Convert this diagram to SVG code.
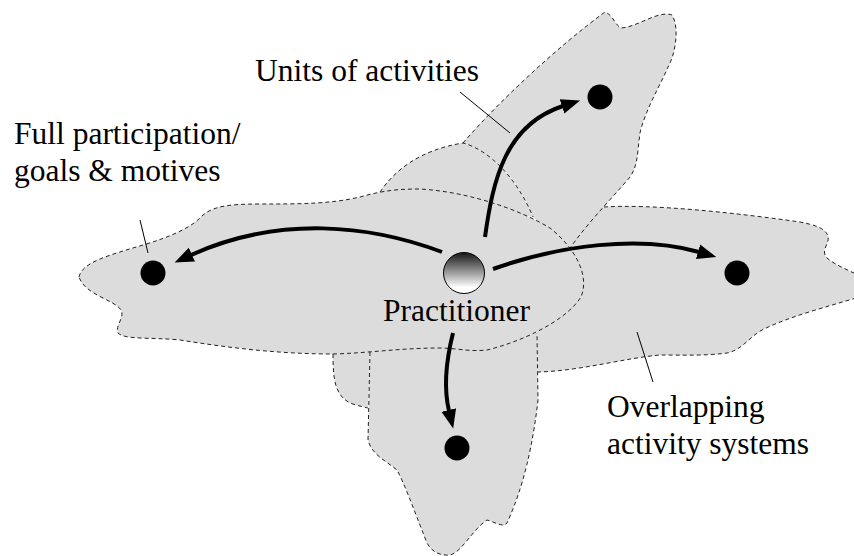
<svg xmlns="http://www.w3.org/2000/svg" width="854" height="556" viewBox="0 0 854 556">
  <defs>
    <linearGradient id="ballShade" x1="0" y1="0" x2="0" y2="1">
      <stop offset="0" stop-color="#151515"/>
      <stop offset="0.85" stop-color="#ffffff"/>
      <stop offset="1" stop-color="#ffffff"/>
    </linearGradient>
    <marker id="head" markerUnits="userSpaceOnUse" markerWidth="24" markerHeight="20" refX="1" refY="0" viewBox="0 -10 24 20" orient="auto">
      <path d="M0,-7.5 L19,0 L0,7.5 Z" fill="#000"/>
    </marker>
    <style>
      .area { fill: #dcdcdc; stroke: none; }
      .edge { fill: none; stroke: #222; stroke-width: 1; stroke-dasharray: 4 3; }
      .leader { fill: none; stroke: #000; stroke-width: 1; }
      .flow { fill: none; stroke: #000; stroke-width: 4; marker-end: url(#head); }
      .dot { fill: #000; }
      .label { font-family: "Liberation Serif", "Times New Roman", serif; font-size: 31.5px; fill: #000; }
    </style>
  </defs>

  <!-- activity system areas (fills) -->
  <g id="areas">
    <path class="area" d="M463,143 C500,100 560,45 605,12 C613,15 615,25 621,28 C638,27 658,10 672,15 C680,28 675,55 668,67 C663,80 645,110 640,133 C637,155 638,165 630,177 C615,195 590,220 570,248 L533,217 C520,180 490,150 463,143 Z"/>
    <path class="area" d="M380,192 C395,170 420,150 463,143 C490,150 518,180 533,217 L450,200 Z"/>
    <path class="area" d="M604,207 C650,204 730,212 800,222 C815,225 825,228 828,236 C830,244 820,250 827,258 C835,265 848,270 856,274 L856,298 C830,306 790,316 762,330 C748,338 742,350 727,353 C705,356 680,355 660,355 C625,358 580,371 538,372 L537,333 L540,280 L560,240 Z"/>
    <path class="area" d="M370,352 L368,440 C372,455 385,460 397,470 C405,485 412,505 427,543 C432,552 440,556 450,555 C462,552 472,530 487,520 C495,522 503,528 507,523 C515,505 530,470 538,400 L537,333 L450,340 Z"/>
    <path class="area" d="M333,354 C333,380 335,395 350,403 C358,406 368,408 368,408 L370,352 Z"/>
    <path class="area" d="M79,277 C82,262 110,255 143,245 C170,237 190,228 200,218 C210,207 225,204 260,204 C300,204 330,204 360,197 C385,190 400,189 420,189 C470,192 520,210 550,228 C575,248 590,275 581,297 C565,322 520,342 487,350 C470,352 455,348 440,348 C400,348 370,353 333,354 C280,354 230,348 180,340 C150,337 125,340 118,333 C115,325 125,318 121,310 C115,300 85,295 79,277 Z"/>
  </g>

  <!-- dashed outlines of the areas -->
  <g id="outlines">
    <path class="edge" d="M463,143 C500,100 560,45 605,12 C613,15 615,25 621,28 C638,27 658,10 672,15 C680,28 675,55 668,67 C663,80 645,110 640,133 C637,155 638,165 630,177 C615,195 590,220 570,248"/>
    <path class="edge" d="M380,192 C395,170 420,150 463,143 C490,150 518,180 533,217"/>
    <path class="edge" d="M604,207 C650,204 730,212 800,222 C815,225 825,228 828,236 C830,244 820,250 827,258 C835,265 848,270 856,274 M856,298 C830,306 790,316 762,330 C748,338 742,350 727,353 C705,356 680,355 660,355 C625,358 580,371 538,372"/>
    <path class="edge" d="M370,352 L368,440 C372,455 385,460 397,470 C405,485 412,505 427,543 C432,552 440,556 450,555 C462,552 472,530 487,520 C495,522 503,528 507,523 C515,505 530,470 538,400 L537,333"/>
    <path class="edge" d="M333,354 C333,380 335,395 350,403 C358,406 368,408 368,408"/>
    <path class="edge" d="M79,277 C82,262 110,255 143,245 C170,237 190,228 200,218 C210,207 225,204 260,204 C300,204 330,204 360,197 C385,190 400,189 420,189 C470,192 520,210 550,228 C575,248 590,275 581,297 C565,322 520,342 487,350 C470,352 455,348 440,348 C400,348 370,353 333,354 C280,354 230,348 180,340 C150,337 125,340 118,333 C115,325 125,318 121,310 C115,300 85,295 79,277 Z"/>
  </g>

  <!-- label leaders -->
  <g id="leaders">
    <line class="leader" x1="460" y1="92" x2="510" y2="133"/>
    <line class="leader" x1="140" y1="220" x2="148" y2="253"/>
    <line class="leader" x1="637" y1="332" x2="653" y2="382"/>
  </g>

  <!-- connectors from the practitioner -->
  <g id="connectors">
    <path class="flow" d="M442,252 C370,225 280,215 191,255"/>
    <path class="flow" d="M493,269 C560,245 640,235 699,252"/>
    <path class="flow" d="M485,237 C493,180 505,125 563,106"/>
    <path class="flow" d="M453,333 C445,365 444,390 449,411"/>
  </g>

  <g id="goal-left"><circle class="dot" cx="153" cy="273" r="12.5"/></g>
  <g id="goal-right"><circle class="dot" cx="737" cy="273" r="12.5"/></g>
  <g id="goal-top"><circle class="dot" cx="600" cy="97" r="12.5"/></g>
  <g id="goal-bottom"><circle class="dot" cx="457" cy="448" r="12.5"/></g>

  <g id="practitioner">
    <circle cx="464" cy="273" r="20.5" fill="url(#ballShade)" stroke="#000" stroke-width="1"/>
    <text class="label" x="383" y="321">Practitioner</text>
  </g>

  <g id="labels">
    <text class="label" x="255" y="81">Units of activities</text>
    <text class="label" x="14" y="144">Full participation/</text>
    <text class="label" x="14" y="181">goals &amp; motives</text>
    <text class="label" x="607" y="417">Overlapping</text>
    <text class="label" x="607" y="454">activity systems</text>
  </g>
</svg>
